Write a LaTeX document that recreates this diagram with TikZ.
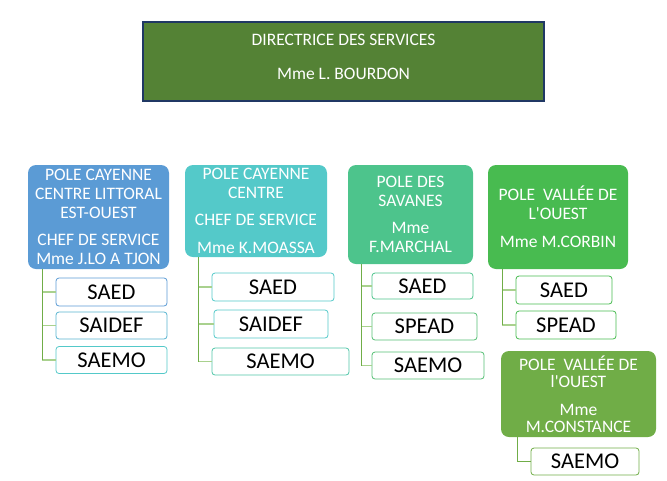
\documentclass[tikz,border=0pt]{standalone}
\usepackage{fontspec}
\setmainfont{Carlito}
\usepackage{tikz}
\usetikzlibrary{positioning}

\definecolor{hdrgreen}{HTML}{548235}
\definecolor{hdrline}{HTML}{203864}
\definecolor{cblue}{HTML}{5B9BD5}
\definecolor{cbluet}{HTML}{58B4D0}
\definecolor{cteal}{HTML}{54C9C9}
\definecolor{ctealg}{HTML}{50C6A8}
\definecolor{cmint}{HTML}{4DC48C}
\definecolor{cmintg}{HTML}{55C075}
\definecolor{cgreen}{HTML}{48BB50}
\definecolor{colive}{HTML}{70AD47}
\definecolor{trunkc}{HTML}{70AD47}
\definecolor{branchc}{HTML}{A9D18E}

\begin{document}
\begin{tikzpicture}[
    x=1pt, y=-1pt,
    hdr/.style={fill=hdrgreen, draw=hdrline, line width=1.2pt, inner sep=0pt},
    pole/.style={rounded corners=8pt, fill=#1, text=white, align=center,
        inner sep=0pt, font=\fontsize{17.5}{19}\selectfont},
    unit/.style={draw=#1, rounded corners=3pt, fill=white, line width=0.8pt,
        inner sep=0pt, font=\fontsize{22.5}{24}\selectfont},
    trunk/.style={trunkc, line width=1pt},
    branch/.style={branchc, line width=1.2pt}
]
\useasboundingbox (0,0) rectangle (667,480);

% direction
\node[hdr, minimum width=401pt, minimum height=79pt] (dir) at (343.5,61.5) {};
\node[text=white, align=center, font=\fontsize{17.5}{19}\selectfont] (dirtext) at (343.5,57)
    {DIRECTRICE DES SERVICES\\[15pt]Mme L. BOURDON};

% poles
\node[pole=cblue, minimum width=141pt, minimum height=104pt] (p1) at (98.5,217)
    {POLE CAYENNE\\CENTRE LITTORAL\\EST-OUEST\\[8pt]CHEF DE SERVICE\\Mme J.LO A TJON};
\node[pole=cteal, minimum width=142pt, minimum height=92pt] (p2) at (256,211)
    {POLE CAYENNE\\CENTRE\\[8pt]CHEF DE SERVICE\\[9pt]Mme K.MOASSA};
\node[pole=cmint, minimum width=125pt, minimum height=99pt] (p3) at (410.5,214.5)
    {POLE DES\\SAVANES\\[8pt]Mme\\F.MARCHAL};
\node[pole=cgreen, minimum width=140pt, minimum height=104pt] (p4) at (558,217)
    {POLE\ \ VALLÉE DE\\L\textquotesingle OUEST\\[9pt]Mme M.CORBIN};
\node[pole=colive, minimum width=155pt, minimum height=86pt,
    font=\fontsize{17.5}{17}\selectfont] (p5) at (578.5,394)
    {POLE\ \ VALLÉE DE\\l\textquotesingle OUEST\\[11pt]Mme\\M.CONSTANCE};

% services
\node[unit=cblue, minimum width=111pt, minimum height=28pt] (s1a) at (111.5,292) {SAED};
\node[unit=cbluet, minimum width=111pt, minimum height=27pt] (s1b) at (111.5,325.5) {SAIDEF};
\node[unit=cteal, minimum width=111pt, minimum height=27pt] (s1c) at (111.5,360) {SAEMO};

\node[unit=cteal, minimum width=122pt, minimum height=28pt] (s2a) at (273,287) {SAED};
\node[unit=cteal, minimum width=114pt, minimum height=28pt] (s2b) at (271,324) {SAIDEF};
\node[unit=ctealg, minimum width=137pt, minimum height=27pt] (s2c) at (280.5,361.5) {SAEMO};

\node[unit=cmint, minimum width=101pt, minimum height=26pt] (s3a) at (422.5,286) {SAED};
\node[unit=cmintg, minimum width=105pt, minimum height=27pt] (s3b) at (424.5,326.5) {SPEAD};
\node[unit=cmintg, minimum width=112pt, minimum height=27pt] (s3c) at (428,365.5) {SAEMO};

\node[unit=cgreen, minimum width=96pt, minimum height=28pt] (s4a) at (564,290) {SAED};
\node[unit=cgreen, minimum width=100pt, minimum height=28pt] (s4b) at (566,325) {SPEAD};

\node[unit=colive, minimum width=108pt, minimum height=27pt] (s5a) at (585,461.5) {SAEMO};

% liaisons
\coordinate (t1) at (42,269);
\coordinate (t2) at (198,257);
\coordinate (t3) at (361,264);
\coordinate (t4) at (502,269);
\coordinate (t5) at (517,437);

\draw[branch] (t1 |- s1a.west) -- (s1a.west);
\draw[branch] (t1 |- s1b.west) -- (s1b.west);
\draw[branch] (t1 |- s1c.west) -- (s1c.west);
\draw[trunk] (t1) -- (t1 |- s1c.west);

\draw[branch] (t2 |- s2a.west) -- (s2a.west);
\draw[branch] (t2 |- s2b.west) -- (s2b.west);
\draw[branch] (t2 |- s2c.west) -- (s2c.west);
\draw[trunk] (t2) -- (t2 |- s2c.west);

\draw[branch] (t3 |- s3a.west) -- (s3a.west);
\draw[branch] (t3 |- s3b.west) -- (s3b.west);
\draw[branch] (t3 |- s3c.west) -- (s3c.west);
\draw[trunk] (t3) -- (t3 |- s3c.west);

\draw[branch] (t4 |- s4a.west) -- (s4a.west);
\draw[branch] (t4 |- s4b.west) -- (s4b.west);
\draw[trunk] (t4) -- (t4 |- s4b.west);

\draw[trunk] (t5) |- (s5a.west);

\end{tikzpicture}
\end{document}
